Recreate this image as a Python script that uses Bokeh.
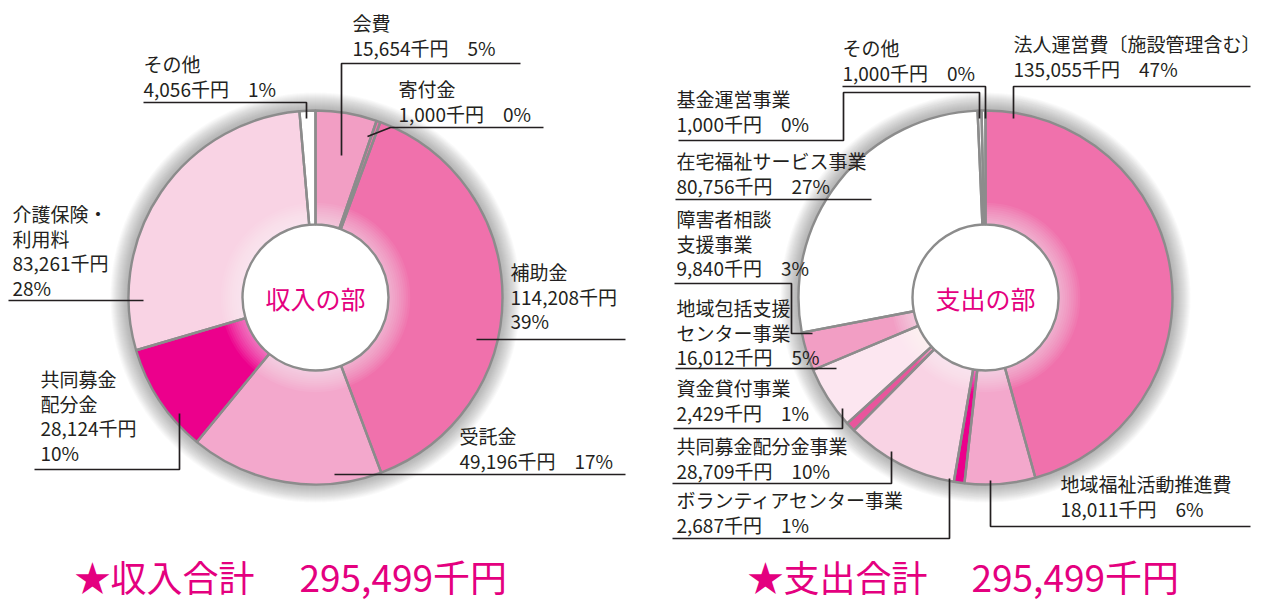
import numpy as np
from bokeh.plotting import figure
from bokeh.models import Range1d, ColumnDataSource
from bokeh.embed import file_html
from bokeh.resources import INLINE
from bokeh.core.properties import value

# ---------------- data ----------------
inc_title = "収入の部"
inc_name_lines = [["会費"], ["寄付金"], ["補助金"], ["受託金"],
                  ["共同募金", "配分金"], ["介護保険・", "利用料"], ["その他"]]
inc_values = [15654, 1000, 114208, 49196, 28124, 83261, 4056]
inc_pcts = [5, 0, 39, 17, 10, 28, 1]
inc_colors = ["#F29EC4", "#F071AC", "#F071AC", "#F3A8CC", "#EC008C", "#F9D3E4", "#FFFFFF"]
inc_total_label = "★収入合計"

exp_title = "支出の部"
exp_name_lines = [["法人運営費〔施設管理含む〕"], ["地域福祉活動推進費"], ["ボランティアセンター事業"],
                  ["共同募金配分金事業"], ["資金貸付事業"], ["地域包括支援", "センター事業"],
                  ["障害者相談", "支援事業"], ["在宅福祉サービス事業"], ["基金運営事業"], ["その他"]]
exp_values = [135055, 18011, 2687, 28709, 2429, 16012, 9840, 80756, 1000, 1000]
exp_pcts = [47, 6, 1, 10, 1, 5, 3, 27, 0, 0]
exp_colors = ["#F071AC", "#F3A8CC", "#EC008C", "#F9D3E4", "#E9559C", "#FCE6F0", "#F29EC4",
              "#FFFFFF", "#FFFFFF", "#FFFFFF"]
exp_total_label = "★支出合計"

# ---------------- layout ----------------
W, H = 1264, 601
def X(px): return px
def Y(py): return H - py

R_OUT, R_IN = 187, 73
FONT = value("Noto Sans CJK JP")
TXT = "#231F20"
PINK = "#E4007F"

p = figure(width=W, height=H, x_range=Range1d(0, W), y_range=Range1d(0, H),
           output_backend="svg", toolbar_location=None,
           x_axis_type=None, y_axis_type=None, min_border=0)
p.grid.visible = False
p.outline_line_color = None
p.background_fill_color = "white"
p.border_fill_color = "white"


def donut(cx, cy, values, colors):
    v = np.array(values, dtype=float)
    frac = v / v.sum() * 2 * np.pi
    a1 = np.cumsum(frac)
    a0 = a1 - frac
    src = ColumnDataSource(dict(start=np.pi / 2 - a1, end=np.pi / 2 - a0, color=colors))
    # soft outer shadow
    for k in range(18):
        p.annulus(x=cx, y=cy, inner_radius=R_OUT, outer_radius=R_OUT + 1 + k,
                  fill_color="#6a6a6a", fill_alpha=0.032, line_color=None)
    p.annular_wedge(x=cx, y=cy, inner_radius=R_IN, outer_radius=R_OUT,
                    start_angle="start", end_angle="end", fill_color="color",
                    line_color=None, source=src)
    # inner highlight
    for k in range(10):
        p.annulus(x=cx, y=cy, inner_radius=R_IN, outer_radius=R_IN + 2 + 2.2 * k,
                  fill_color="white", fill_alpha=0.06, line_color=None)
    p.annular_wedge(x=cx, y=cy, inner_radius=R_IN, outer_radius=R_OUT,
                    start_angle="start", end_angle="end", fill_color=None,
                    line_color="#8C8C8C", line_width=2.4, source=src)


def labels(names, values, pcts, spec):
    for name, v, pc, (lx, ly, split) in zip(names, values, pcts, spec):
        lines = list(name)
        if split:
            lines += [f"{v:,}千円", f"{pc}%"]
        else:
            lines += [f"{v:,}千円　{pc}%"]
        ys = [ly + i * 24.5 for i in range(len(lines))]
        p.text(x=[X(lx)] * len(lines), y=[Y(y) for y in ys], text=lines,
               text_font=FONT, text_font_size="19px", text_color=TXT,
               text_align="left", text_baseline="middle")


def leaders(paths):
    p.multi_line(xs=[[X(a) for a, b in pth] for pth in paths],
                 ys=[[Y(b) for a, b in pth] for pth in paths],
                 line_color=TXT, line_width=1.7)


# left donut
LCX, LCY = X(315), Y(297)
donut(LCX, LCY, inc_values, inc_colors)
p.text(x=[LCX], y=[LCY], text=[inc_title], text_font=FONT, text_font_size="25px",
       text_color=PINK, text_align="center", text_baseline="middle")

inc_spec = [(352, 22, False), (398, 88, False), (510, 271, True), (459, 435, False),
            (40, 378, True), (12, 213, True), (143, 63, False)]
labels(inc_name_lines, inc_values, inc_pcts, inc_spec)
leaders([
    [(520, 63), (341, 63), (341, 155)],
    [(543, 127), (390, 127), (367, 136)],
    [(625, 339), (476, 339)],
    [(625, 474), (334, 474)],
    [(34, 469), (179, 469), (179, 413)],
    [(8, 300), (143, 300)],
    [(143, 102), (306, 102), (306, 118)],
])

# right donut
RCX, RCY = X(985), Y(297)
donut(RCX, RCY, exp_values, exp_colors)
p.text(x=[RCX], y=[RCY], text=[exp_title], text_font=FONT, text_font_size="25px",
       text_color=PINK, text_align="center", text_baseline="middle")

exp_spec = [(1013, 43, False), (1060, 483, False), (676, 499, False), (676, 445, False),
            (676, 387, False), (676, 307, False), (676, 218, False), (676, 160, False),
            (676, 98, False), (842, 47, False)]
labels(exp_name_lines, exp_values, exp_pcts, exp_spec)
leaders([
    [(1250, 86), (1013, 86), (1013, 118)],
    [(1250, 526), (990, 526), (990, 480)],
    [(672, 538), (949, 538), (949, 478)],
    [(672, 483), (891, 483), (891, 451)],
    [(673, 428), (842, 428), (842, 408)],
    [(675, 368), (836, 368)],
    [(674, 283), (791, 283), (791, 333), (812, 333)],
    [(675, 199), (871, 199)],
    [(678, 140), (843, 140), (843, 92), (979, 92), (979, 118)],
    [(842, 86), (985, 86), (985, 118)],
])

# totals
inc_total = sum(inc_values)
exp_total = sum(exp_values)
p.text(x=[X(74), X(747)], y=[Y(575), Y(575)], text=[inc_total_label, exp_total_label],
       text_font=FONT, text_font_size="36px", text_color=PINK,
       text_align="left", text_baseline="middle")
p.text(x=[X(299), X(971)], y=[Y(575), Y(575)], text=[f"{inc_total:,}千円", f"{exp_total:,}千円"],
       text_font=FONT, text_font_size="37px", text_color=PINK,
       text_align="left", text_baseline="middle")

open("out.html", "w").write(file_html(p, INLINE))
